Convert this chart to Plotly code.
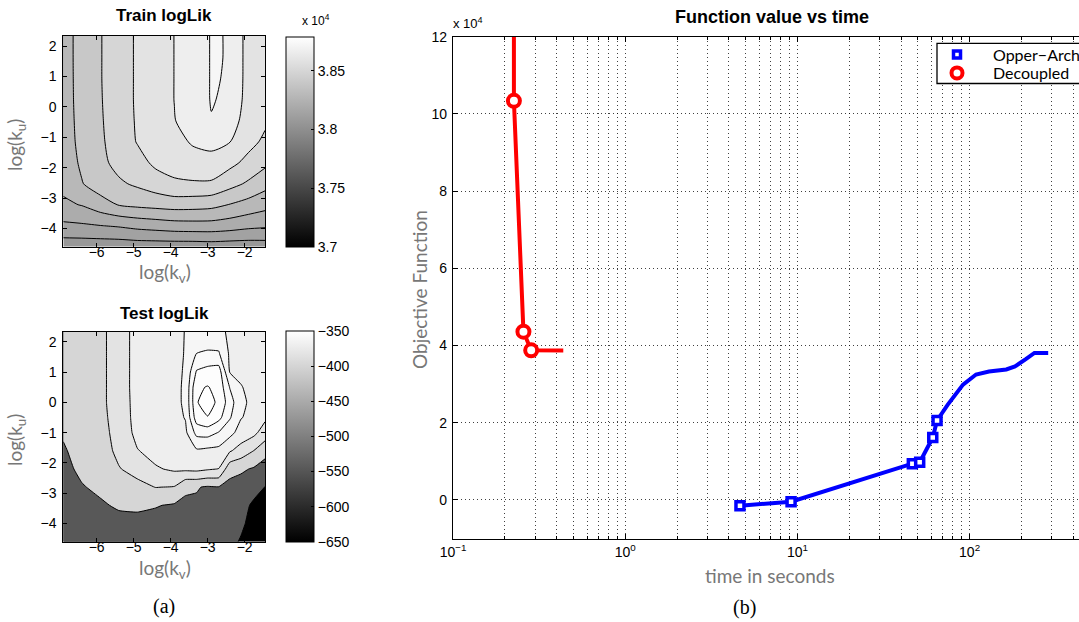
import plotly.graph_objects as go

W, H = 1079, 622

# ---------------- data ----------------
train_log_kv = [-6.9, -6.4, -5.9, -5.4, -4.9, -4.4, -3.9, -3.4, -2.9, -2.4, -1.9, -1.45]
train_log_ku = [-4.6, -3.91, -3.22, -2.53, -1.84, -1.15, -0.46, 0.23, 0.92, 1.61, 2.33]
train_loglik = [
    [37940, 37940, 37940, 37940, 37945, 37945, 37945, 37945, 37950, 37945, 37945, 37950],
    [38081, 38087, 38098, 38110, 38130, 38143, 38156, 38160, 38160, 38147, 38126, 38116],
    [38180, 38205, 38258, 38305, 38322, 38333, 38343, 38340, 38330, 38296, 38263, 38233],
    [38230, 38295, 38350, 38385, 38416, 38453, 38488, 38490, 38485, 38434, 38385, 38334],
    [38245, 38315, 38375, 38430, 38465, 38520, 38530, 38554, 38575, 38527, 38472, 38422],
    [38255, 38325, 38385, 38445, 38505, 38540, 38564, 38612, 38620, 38602, 38530, 38482],
    [38260, 38328, 38390, 38450, 38510, 38550, 38597, 38635, 38696, 38650, 38550, 38515],
    [38263, 38330, 38393, 38455, 38512, 38555, 38601, 38645, 38705, 38685, 38557, 38525],
    [38265, 38330, 38395, 38455, 38512, 38555, 38601, 38650, 38705, 38695, 38560, 38528],
    [38266, 38330, 38395, 38455, 38512, 38555, 38601, 38650, 38705, 38697, 38560, 38530],
    [38266, 38330, 38395, 38455, 38512, 38555, 38601, 38650, 38705, 38697, 38560, 38530],
]
train_levels = dict(start=38000, end=38700, size=100)

test_log_kv = [-6.9, -6.4, -5.9, -5.4, -4.9, -4.4, -3.9, -3.6, -3.3, -3.0, -2.7, -2.4, -2.1, -1.75, -1.45]
test_log_ku = [-4.6, -4.0, -3.4, -2.8, -2.2, -1.6, -1.0, -0.5, 0.0, 0.5, 1.0, 1.6, 2.33]
test_loglik = [
    [-575, -575, -575, -575, -576.5, -576.5, -578, -578, -578, -578, -579.5, -581, -593, -605, -608],
    [-573.5, -572, -569, -567.5, -567.5, -569, -572, -573.5, -573.5, -573.5, -575, -576.5, -584, -602, -605],
    [-572, -567.5, -563, -557, -555.5, -558.5, -563, -564.5, -564.5, -566, -567.5, -572, -578, -596, -599],
    [-569, -561.5, -555.5, -545, -537.5, -529.4, -531.5, -556, -558, -563, -561.5, -569, -572, -578, -590.6],
    [-566, -555.5, -548, -531.5, -521, -503, -495.5, -494, -492.5, -497, -500.6, -549.5, -555.5, -563, -575],
    [-563, -549.5, -542, -524, -501.5, -489.5, -485, -482, -474.5, -477.5, -479, -497, -512, -530.6, -548],
    [-557, -545, -537.5, -522.5, -491, -485, -480.5, -476, -431, -428, -441.5, -461, -482, -492.5, -515],
    [-551, -542, -536, -521, -488, -483.5, -479, -468.5, -395, -380.9, -401, -437, -468.5, -479, -494],
    [-546.5, -540.5, -534.5, -521, -486.5, -482, -477.5, -465.5, -381.5, -371, -384.5, -426.5, -464, -477.5, -491],
    [-543.5, -539, -534.5, -521, -485, -482, -477.5, -465.5, -384.5, -378.5, -389, -441.5, -468.5, -479, -491],
    [-542, -539, -534.5, -521, -485, -482, -477.5, -467, -407, -398, -395, -471.5, -476, -482, -491],
    [-541.4, -539, -534.5, -521, -485, -482, -477.5, -468.5, -439.4, -437, -437, -474.5, -479, -485, -491],
    [-541.4, -539, -534.5, -521, -485, -482, -477.5, -469.1, -464, -455, -461, -476, -480.5, -486.5, -491],
]
test_levels = dict(start=-590, end=-380, size=30)

train_cbar_range = [37000, 38790]
train_cbar_ticks = [37000, 37500, 38000, 38500]
train_cbar_text = ["3.7", "3.75", "3.8", "3.85"]
test_cbar_range = [-650, -350]
test_cbar_ticks = [-650, -600, -550, -500, -450, -400, -350]
test_cbar_text = ["\u2212650", "\u2212600", "\u2212550", "\u2212500", "\u2212450", "\u2212400", "\u2212350"]

contour_xticks = [-6, -5, -4, -3, -2]
contour_yticks = [-4, -3, -2, -1, 0, 1, 2]

opper_time = [4.64, 9.19, 46.5, 51.3, 61.1, 64.7, 74.7, 91.6, 109, 129.6, 163.3, 183.5, 212, 238, 286]
opper_value = [-1480, -440, 9400, 9750, 16200, 20600, 24700, 29900, 32500, 33300, 33800, 34600, 36500, 38100, 38100]
opper_marked = [0, 1, 2, 3, 4, 5]
dec_time = [0.2258, 0.2258, 0.2565, 0.2844, 0.437]
dec_value = [150000, 103400, 43600, 38760, 38700]
dec_marked = [1, 2, 3]

time_ticks = [0.1, 1, 10, 100]
time_tick_text = ["10<sup>\u22121</sup>", "10<sup>0</sup>", "10<sup>1</sup>", "10<sup>2</sup>"]
obj_ticks = [0, 20000, 40000, 60000, 80000, 100000, 120000]
obj_tick_text = ["0", "2", "4", "6", "8", "10", "12"]

# ---------------- styles ----------------
train_band_grays = ["#989898", "#a2a2a2", "#acacac", "#b8b8b8", "#c8c8c8",
                    "#d6d6d6", "#e3e3e3", "#eeeeee", "#f6f6f6"]
test_band_grays = ["#000000", "#585858", "#d6d6d6", "#e3e3e3", "#eeeeee",
                   "#f6f6f6", "#fafafa", "#fdfdfd", "#ffffff"]


def band_scale(cols):
    n = len(cols) - 1
    return [[i / n, c] for i, c in enumerate(cols)]


def px_x(p):
    return p / W


def px_y(p):
    return 1 - p / H


GRAY_CS = [[0, "#000000"], [1, "#ffffff"]]
TICKFONT = dict(family="Liberation Sans, Arial, sans-serif", size=14, color="black")
LABEL_COLOR = "#777777"
LABEL_FONT = dict(family="Lato, Liberation Sans, sans-serif", size=19, color=LABEL_COLOR)
TITLE_FONT = dict(family="Liberation Sans Narrow, Liberation Sans, sans-serif", size=17, color="black")
LEGEND_FONT = dict(family="Lato, Liberation Sans, sans-serif", size=16, color="black")

fig = go.Figure()

# contour panels
panels = [
    ("x", "y", train_log_kv, train_log_ku, train_loglik, train_levels, train_band_grays,
     train_cbar_range, train_cbar_ticks, train_cbar_text, 37, 246.7, 0.7),
    ("x2", "y2", test_log_kv, test_log_ku, test_loglik, test_levels, test_band_grays,
     test_cbar_range, test_cbar_ticks, test_cbar_text, 331, 541.7, 0.4),
]
for xa, ya, xs, ys, zs, lev, grays, crange, cticks, ctext, cb_top, cb_bot, smooth in panels:
    fig.add_trace(go.Contour(
        x=xs, y=ys, z=zs, xaxis=xa, yaxis=ya,
        autocontour=False,
        contours=dict(start=lev["start"], end=lev["end"], size=lev["size"],
                      coloring="fill", showlines=True),
        colorscale=band_scale(grays),
        line=dict(color="black", width=1, smoothing=smooth),
        showscale=False, hoverinfo="skip",
    ))
    fig.add_trace(go.Scatter(
        x=[None], y=[None], xaxis=xa, yaxis=ya, mode="markers", showlegend=False,
        hoverinfo="skip",
        marker=dict(color=[crange[0]], cmin=crange[0], cmax=crange[1], colorscale=GRAY_CS,
                    showscale=True,
                    colorbar=dict(x=px_x(286), xanchor="left", xpad=0,
                                  y=px_y((cb_top + cb_bot) / 2), yanchor="middle",
                                  len=(cb_bot - cb_top) / H, lenmode="fraction", ypad=0,
                                  thickness=28, thicknessmode="pixels",
                                  outlinecolor="black", outlinewidth=1, borderwidth=0,
                                  tickmode="array", tickvals=cticks, ticktext=ctext,
                                  ticks="inside", ticklen=3, tickcolor="black",
                                  tickfont=TICKFONT)),
    ))

# right panel
fig.add_trace(go.Scatter(x=dec_time, y=dec_value, xaxis="x3", yaxis="y3", mode="lines",
                         line=dict(color="#ff0000", width=4), showlegend=False, hoverinfo="skip"))
fig.add_trace(go.Scatter(x=[dec_time[i] for i in dec_marked], y=[dec_value[i] for i in dec_marked],
                         xaxis="x3", yaxis="y3", mode="markers", showlegend=False, hoverinfo="skip",
                         marker=dict(symbol="circle", size=12, color="white",
                                     line=dict(color="#ff0000", width=4))))
fig.add_trace(go.Scatter(x=opper_time, y=opper_value, xaxis="x3", yaxis="y3", mode="lines",
                         line=dict(color="#0000ff", width=4), showlegend=False, hoverinfo="skip"))
fig.add_trace(go.Scatter(x=[opper_time[i] for i in opper_marked], y=[opper_value[i] for i in opper_marked],
                         xaxis="x3", yaxis="y3", mode="markers", showlegend=False, hoverinfo="skip",
                         marker=dict(symbol="square", size=8, color="white",
                                     line=dict(color="#0000ff", width=3.5))))
# legend entries (one legend each, inside a common drawn box)
fig.add_trace(go.Scatter(x=[None], y=[None], xaxis="x3", yaxis="y3", mode="markers", name="Opper\u2212Arch",
                         legend="legend",
                         marker=dict(symbol="square", size=7, color="white",
                                     line=dict(color="#0000ff", width=3.5))))
fig.add_trace(go.Scatter(x=[None], y=[None], xaxis="x3", yaxis="y3", mode="markers", name="Decoupled",
                         legend="legend2",
                         marker=dict(symbol="circle", size=11, color="white",
                                     line=dict(color="#ff0000", width=4))))

common_ax = dict(showline=True, linecolor="black", linewidth=1, ticks="inside", ticklen=4,
                 tickcolor="black", showgrid=False, zeroline=False, tickfont=TICKFONT)

contour_x_dom = [px_x(63.3), px_x(265)]
grid_dash = "1px,3px"
grid_col = "rgba(0,0,0,0.75)"
minor_vals = [k * 10.0 ** e for e in (-1, 0, 1, 2) for k in range(2, 10)]

legend_common = dict(xanchor="left", yanchor="middle", borderwidth=0, bgcolor="rgba(0,0,0,0)",
                     font=LEGEND_FONT, itemwidth=62, tracegroupgap=0)

fig.update_layout(
    width=W, height=H,
    margin=dict(l=0, r=0, t=0, b=0, autoexpand=False),
    paper_bgcolor="white", plot_bgcolor="white",
    font=dict(family="Liberation Sans, Arial, sans-serif", color="black"),
    xaxis=dict(domain=contour_x_dom, range=[-6.9, -1.45], anchor="y", tickvals=contour_xticks,
               mirror="ticks", ticklabelstandoff=-8, **common_ax),
    yaxis=dict(domain=[px_y(246.7), px_y(36)], range=[-4.6, 2.33], anchor="x", tickvals=contour_yticks,
               mirror="ticks", ticklabelstandoff=3, **common_ax),
    xaxis2=dict(domain=contour_x_dom, range=[-6.9, -1.45], anchor="y2", tickvals=contour_xticks,
                mirror="ticks", ticklabelstandoff=-8, **common_ax),
    yaxis2=dict(domain=[px_y(541.7), px_y(331.7)], range=[-4.6, 2.33], anchor="x2", tickvals=contour_yticks,
                mirror="ticks", ticklabelstandoff=3, **common_ax),
    xaxis3=dict(type="log", domain=[px_x(453), 1.0], range=[-1, -1 + (W - 453) / 172.2], anchor="y3",
                tickvals=time_ticks, ticktext=time_tick_text, mirror="ticks",
                showline=True, linecolor="black", linewidth=1.2, ticks="inside", ticklen=5,
                tickcolor="black", zeroline=False, tickfont=TICKFONT,
                showgrid=True, gridcolor=grid_col, gridwidth=1, griddash=grid_dash,
                minor=dict(tickmode="array", tickvals=minor_vals, ticks="inside", ticklen=3,
                           tickcolor="black", showgrid=True, gridcolor=grid_col, gridwidth=1,
                           griddash=grid_dash)),
    yaxis3=dict(domain=[px_y(538.6), px_y(36.7)], range=[-10000, 120000], anchor="x3",
                tickvals=obj_ticks, ticktext=obj_tick_text,
                showline=True, linecolor="black", linewidth=1.2, ticks="inside", ticklen=5,
                tickcolor="black", zeroline=False, tickfont=TICKFONT, ticklabelstandoff=2,
                showgrid=True, gridcolor=grid_col, gridwidth=1, griddash=grid_dash),
    legend=dict(x=px_x(921), y=px_y(54.5), **legend_common),
    legend2=dict(x=px_x(921), y=px_y(73), **legend_common),
    showlegend=True,
    shapes=[dict(type="rect", xref="paper", yref="paper", x0=px_x(937), x1=px_x(1100),
                 y0=px_y(83.5), y1=px_y(43.3), line=dict(color="black", width=1.3),
                 fillcolor="white", layer="above")],
)

ann = []


def add_text(text, x, y, font, xanchor="center", yanchor="middle", angle=0):
    ann.append(dict(text=text, x=px_x(x), y=px_y(y), xref="paper", yref="paper",
                    xanchor=xanchor, yanchor=yanchor, showarrow=False, font=font, textangle=angle))


add_text("<b>Train logLik</b>", 164, 16, TITLE_FONT)
add_text("<b>Test logLik</b>", 164, 314, TITLE_FONT)
add_text("<b>Function value vs time</b>", 772, 17, dict(TITLE_FONT, size=18))
add_text("x 10<sup>4</sup>", 300, 20, dict(TICKFONT, size=12), xanchor="left")
add_text("x 10<sup>4</sup>", 451, 23, dict(TICKFONT, size=13), xanchor="left")
add_text("log(k<sub>v</sub>)", 165, 273, LABEL_FONT)
add_text("log(k<sub>v</sub>)", 165, 569, LABEL_FONT)
add_text("log(k<sub>u</sub>)", 16, 145, LABEL_FONT, angle=-90)
add_text("log(k<sub>u</sub>)", 16, 440, LABEL_FONT, angle=-90)
add_text("Objective Function", 419, 290, LABEL_FONT, angle=-90)
add_text("time in seconds", 770, 575, LABEL_FONT)
add_text("(a)", 164, 606, dict(family="Liberation Serif, DejaVu Serif, serif", size=20, color="black"))
add_text("(b)", 744, 607, dict(family="Liberation Serif, DejaVu Serif, serif", size=20, color="black"))
fig.update_layout(annotations=ann)

fig.write_html("out.html", config={"displayModeBar": False},
               post_script="document.body.style.margin='0px';document.body.style.overflow='hidden';")
